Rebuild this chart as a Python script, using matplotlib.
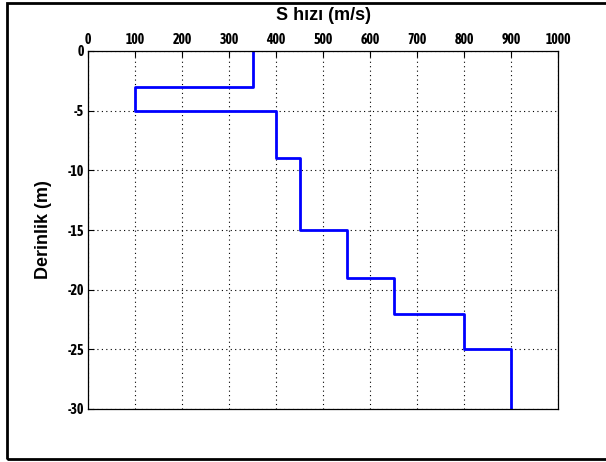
import matplotlib
matplotlib.use("Agg")
import matplotlib.pyplot as plt
from matplotlib.patches import Rectangle

# layer velocities (m/s) and layer boundaries (m, depth negative down)
vs = [350, 100, 400, 450, 550, 650, 800, 900]
tops = [0, -3, -5, -9, -15, -19, -22, -25]
bottoms = [-3, -5, -9, -15, -19, -22, -25, -30]

xticks = list(range(0, 1001, 100))
yticks = [0, -5, -10, -15, -20, -25, -30]

# build the step profile
x = []
y = []
for v, t, b in zip(vs, tops, bottoms):
    x += [v, v]
    y += [t, b]

fig = plt.figure(figsize=(6.06, 4.62), dpi=100)
ax = fig.add_axes([88/606, 1 - 409/462, 470/606, 358/462])

ax.plot(x, y, color="#0000ff", lw=2)

ax.set_xlim(0, 1000)
ax.set_ylim(-30, 0)
ax.set_xticks(xticks)
ax.set_yticks(yticks)
ax.xaxis.tick_top()
ax.xaxis.set_label_position("top")
ax.tick_params(direction="in", length=4, width=0.8, top=True, bottom=False,
               right=False, pad=3)
tick_font = dict(family=["Asap Condensed", "DejaVu Sans"],
                 weight="bold", size=10)
ax.set_xticklabels([str(t) for t in xticks], **tick_font)
ax.set_yticklabels([str(t) for t in yticks], **tick_font)
ax.grid(True, color="black", linestyle=(0, (1, 3)), linewidth=0.8)
for s in ax.spines.values():
    s.set_linewidth(0.9)

ax.set_xlabel("S hızı (m/s)", family=["Liberation Sans", "DejaVu Sans"],
              weight="bold", fontsize=13, labelpad=9)
ax.set_ylabel("Derinlik (m)", family=["Liberation Sans", "DejaVu Sans"],
              weight="bold", fontsize=13, labelpad=11)

# outer frame around the figure
fig.patches.append(Rectangle((7/606, 3/462), 1.05, 456/462,
                             transform=fig.transFigure, fill=False,
                             edgecolor="black", linewidth=2))

fig.savefig("out.png", dpi=100)
